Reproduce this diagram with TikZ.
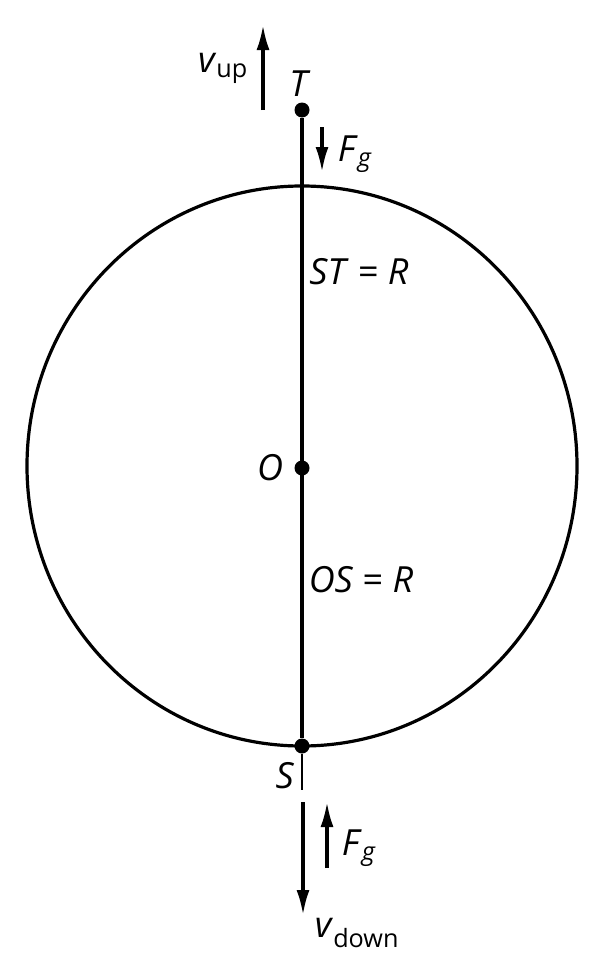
\documentclass[tikz,border=0pt]{standalone}
\usepackage{fontspec}
\setmainfont{Open Sans}
\usetikzlibrary{arrows.meta}

\begin{document}
\begin{tikzpicture}
[x=1pt,y=-1pt,
  lineDecorate/.style={-,line width=3.2pt},
  thinDecorate/.style={-,line width=1.6pt},
  dotDecorate/.style={shape=circle,inner sep=0pt,minimum size=15pt,fill},
  arrowDecorate/.style={-{Latex[length=25pt,width=13pt]},line width=3.2pt},
  labelDecorate/.style={inner sep=0pt,font=\fontsize{36}{40}\selectfont}]
\useasboundingbox (0,0) rectangle (603,969);
%% the sphere
\draw[lineDecorate] (302,466) ellipse [x radius=275, y radius=280];
%% points on the axis
\foreach \nodename/\x/\y in {T/302/110, O/302/468, S/302/746}
{
  \node (\nodename) at (\x,\y) [dotDecorate] {};
}
\coordinate (Send) at (302,790);
\draw[lineDecorate] (T) -- (S);
\draw[thinDecorate] (S) -- (Send);
%% arrow ends
\foreach \nodename/\x/\y in {
  vupTail/263/110, vupTip/263/25, FgTopTail/322/127, FgTopTip/322/172,
  vdownTail/303/802, vdownTip/303/915, FgBotTail/327/868, FgBotTip/327/802}
{
  \coordinate (\nodename) at (\x,\y);
}
\path
\foreach \startnode/\endnode in {vupTail/vupTip, FgTopTail/FgTopTip,
  vdownTail/vdownTip, FgBotTail/FgBotTip}
{
  (\startnode) edge[arrowDecorate] (\endnode)
};
%% labels
\node (Tlabel) at (300,84) [labelDecorate] {\textit{T}};
\node (Olabel) at (270,468) [labelDecorate] {\textit{O}};
\node (Slabel) at (285,776) [labelDecorate] {\textit{S}};
\node (vupLabel) at (223,68) [labelDecorate] {\textit{v}\textsubscript{up}};
\node (FgTopLabel) at (355,154) [labelDecorate] {\textit{F}\textsubscript{\textit{g}}};
\node (FgBotLabel) at (359,848) [labelDecorate] {\textit{F}\textsubscript{\textit{g}}};
\node (vdownLabel) at (357,933) [labelDecorate] {\textit{v}\textsubscript{down}};
\node (STlabel) at (359,272) [labelDecorate] {\textit{ST} = \textit{R}};
\node (OSlabel) at (361,580) [labelDecorate] {\textit{OS} = \textit{R}};
\end{tikzpicture}
\end{document}
